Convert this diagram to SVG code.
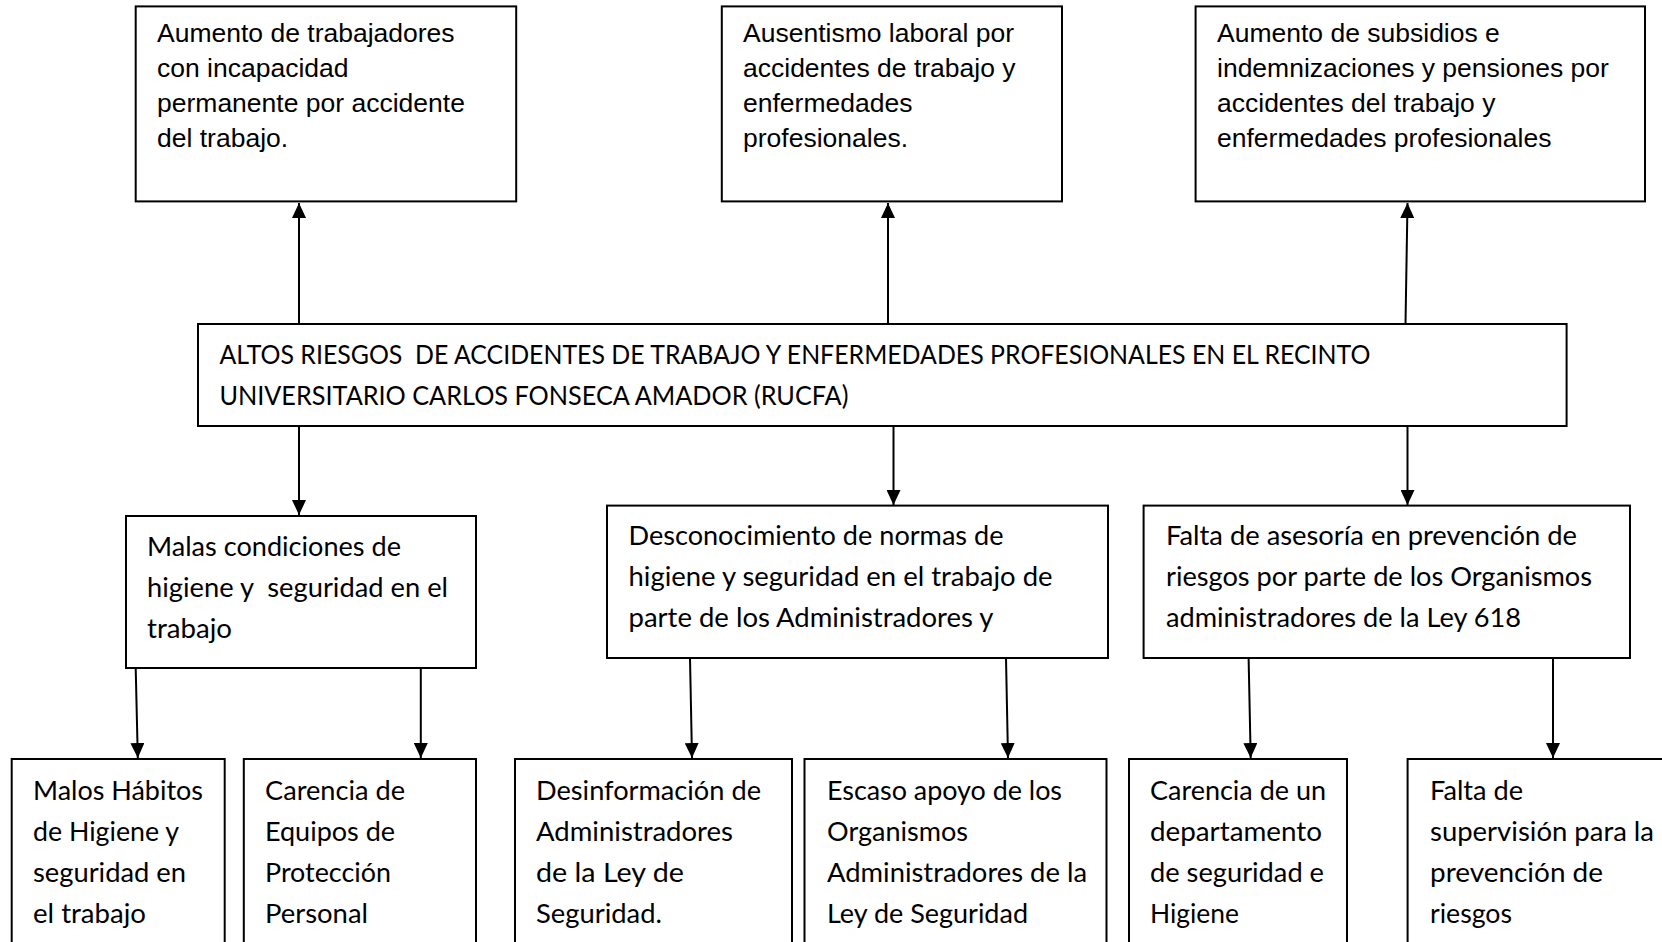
<svg xmlns="http://www.w3.org/2000/svg" width="1662" height="942" viewBox="0 0 1662 942">
<style>
.box{fill:#fff;stroke:#000;stroke-width:2}
.ar{font-family:"Liberation Sans",Arial,sans-serif;font-size:26.5px;fill:#000}
.ca{font-family:Lato,"Noto Sans",sans-serif;font-size:26.6px;fill:#000}
.cn{stroke:#000;stroke-width:2;fill:none;marker-end:url(#ah)}
</style>
<defs>
<marker id="ah" viewBox="0 0 15 14" refX="15" refY="7" markerWidth="15" markerHeight="14" markerUnits="userSpaceOnUse" orient="auto"><path d="M0,0 L15,7 L0,14 z" fill="#000"/></marker>
</defs>
<rect width="1662" height="942" fill="#fff"/>
<g id="connectors">
<line class="cn" x1="299" y1="324" x2="299" y2="203"/>
<line class="cn" x1="888" y1="324" x2="888" y2="203"/>
<line class="cn" x1="1405.5" y1="324" x2="1407.5" y2="203"/>
<line class="cn" x1="299" y1="426" x2="299" y2="515"/>
<line class="cn" x1="893.5" y1="426" x2="893.5" y2="505"/>
<line class="cn" x1="1407.5" y1="426" x2="1407.5" y2="505"/>
<line class="cn" x1="135.7" y1="668" x2="137.8" y2="758"/>
<line class="cn" x1="420.8" y1="668" x2="420.8" y2="758"/>
<line class="cn" x1="690" y1="658" x2="692" y2="758"/>
<line class="cn" x1="1006" y1="658" x2="1008" y2="758"/>
<line class="cn" x1="1248.6" y1="658" x2="1250.7" y2="758"/>
<line class="cn" x1="1553" y1="658" x2="1553" y2="758"/>
</g>
<g id="efecto1">
<rect class="box" x="135.7" y="6.4" width="380.5" height="195"/>
<text class="ar" x="157" y="42">Aumento de trabajadores</text>
<text class="ar" x="157" y="77">con incapacidad</text>
<text class="ar" x="157" y="112">permanente por accidente</text>
<text class="ar" x="157" y="147">del trabajo.</text>
</g>
<g id="efecto2">
<rect class="box" x="721.8" y="6.4" width="340.2" height="195"/>
<text class="ar" x="743" y="42">Ausentismo laboral por</text>
<text class="ar" x="743" y="77">accidentes de trabajo y</text>
<text class="ar" x="743" y="112">enfermedades</text>
<text class="ar" x="743" y="147">profesionales.</text>
</g>
<g id="efecto3">
<rect class="box" x="1195.6" y="6.4" width="449.4" height="195"/>
<text class="ar" x="1217" y="42">Aumento de subsidios e</text>
<text class="ar" x="1217" y="77">indemnizaciones y pensiones por</text>
<text class="ar" x="1217" y="112">accidentes del trabajo y</text>
<text class="ar" x="1217" y="147">enfermedades profesionales</text>
</g>
<g id="problema">
<rect class="box" x="198" y="324" width="1368.6" height="102"/>
<text class="ca" x="219.4" y="364" xml:space="preserve" textLength="1151" lengthAdjust="spacingAndGlyphs">ALTOS RIESGOS  DE ACCIDENTES DE TRABAJO Y ENFERMEDADES PROFESIONALES EN EL RECINTO</text>
<text class="ca" x="219.4" y="405" textLength="629" lengthAdjust="spacingAndGlyphs">UNIVERSITARIO CARLOS FONSECA AMADOR (RUCFA)</text>
</g>
<g id="causa1">
<rect class="box" x="126" y="516" width="350" height="152"/>
<text class="ca" x="147" y="556" textLength="254" lengthAdjust="spacingAndGlyphs">Malas condiciones de</text>
<text class="ca" x="147" y="597" xml:space="preserve" textLength="301" lengthAdjust="spacingAndGlyphs">higiene y  seguridad en el</text>
<text class="ca" x="147" y="638" textLength="85" lengthAdjust="spacingAndGlyphs">trabajo</text>
</g>
<g id="causa2">
<rect class="box" x="607" y="505.6" width="501" height="152.4"/>
<text class="ca" x="628.5" y="545" textLength="375" lengthAdjust="spacingAndGlyphs">Desconocimiento de normas de</text>
<text class="ca" x="628.5" y="586" textLength="424" lengthAdjust="spacingAndGlyphs">higiene y seguridad en el trabajo de</text>
<text class="ca" x="628.5" y="627" textLength="365" lengthAdjust="spacingAndGlyphs">parte de los Administradores y</text>
</g>
<g id="causa3">
<rect class="box" x="1143.6" y="505.6" width="486.4" height="152.4"/>
<text class="ca" x="1166" y="545" textLength="411" lengthAdjust="spacingAndGlyphs">Falta de asesoría en prevención de</text>
<text class="ca" x="1166" y="586" textLength="426" lengthAdjust="spacingAndGlyphs">riesgos por parte de los Organismos</text>
<text class="ca" x="1166" y="627" textLength="355" lengthAdjust="spacingAndGlyphs">administradores de la Ley 618</text>
</g>
<g id="sub1">
<rect class="box" x="11.7" y="759" width="213" height="200"/>
<text class="ca" x="33" y="800" textLength="170" lengthAdjust="spacingAndGlyphs">Malos Hábitos</text>
<text class="ca" x="33" y="841" textLength="146" lengthAdjust="spacingAndGlyphs">de Higiene y</text>
<text class="ca" x="33" y="882" textLength="153" lengthAdjust="spacingAndGlyphs">seguridad en</text>
<text class="ca" x="33" y="923" textLength="113" lengthAdjust="spacingAndGlyphs">el trabajo</text>
</g>
<g id="sub2">
<rect class="box" x="243.8" y="759" width="232.2" height="200"/>
<text class="ca" x="265" y="800" textLength="140" lengthAdjust="spacingAndGlyphs">Carencia de</text>
<text class="ca" x="265" y="841" textLength="130" lengthAdjust="spacingAndGlyphs">Equipos de</text>
<text class="ca" x="265" y="882" textLength="126" lengthAdjust="spacingAndGlyphs">Protección</text>
<text class="ca" x="265" y="923" textLength="103" lengthAdjust="spacingAndGlyphs">Personal</text>
</g>
<g id="sub3">
<rect class="box" x="515" y="759" width="277" height="200"/>
<text class="ca" x="536" y="800" textLength="225" lengthAdjust="spacingAndGlyphs">Desinformación de</text>
<text class="ca" x="536" y="841" textLength="197" lengthAdjust="spacingAndGlyphs">Administradores</text>
<text class="ca" x="536" y="882" textLength="148" lengthAdjust="spacingAndGlyphs">de la Ley de</text>
<text class="ca" x="536" y="923" textLength="126" lengthAdjust="spacingAndGlyphs">Seguridad.</text>
</g>
<g id="sub4">
<rect class="box" x="804.5" y="759" width="302" height="200"/>
<text class="ca" x="827" y="800" textLength="235" lengthAdjust="spacingAndGlyphs">Escaso apoyo de los</text>
<text class="ca" x="827" y="841" textLength="141" lengthAdjust="spacingAndGlyphs">Organismos</text>
<text class="ca" x="827" y="882" textLength="260" lengthAdjust="spacingAndGlyphs">Administradores de la</text>
<text class="ca" x="827" y="923" textLength="201" lengthAdjust="spacingAndGlyphs">Ley de Seguridad</text>
</g>
<g id="sub5">
<rect class="box" x="1129" y="759" width="218" height="200"/>
<text class="ca" x="1150" y="800" textLength="176" lengthAdjust="spacingAndGlyphs">Carencia de un</text>
<text class="ca" x="1150" y="841" textLength="172" lengthAdjust="spacingAndGlyphs">departamento</text>
<text class="ca" x="1150" y="882" textLength="174" lengthAdjust="spacingAndGlyphs">de seguridad e</text>
<text class="ca" x="1150" y="923" textLength="89" lengthAdjust="spacingAndGlyphs">Higiene</text>
</g>
<g id="sub6">
<rect class="box" x="1407.6" y="759" width="280" height="200"/>
<text class="ca" x="1430" y="800" textLength="93" lengthAdjust="spacingAndGlyphs">Falta de</text>
<text class="ca" x="1430" y="841" textLength="224" lengthAdjust="spacingAndGlyphs">supervisión para la</text>
<text class="ca" x="1430" y="882" textLength="173" lengthAdjust="spacingAndGlyphs">prevención de</text>
<text class="ca" x="1430" y="923" textLength="82" lengthAdjust="spacingAndGlyphs">riesgos</text>
</g>
</svg>
